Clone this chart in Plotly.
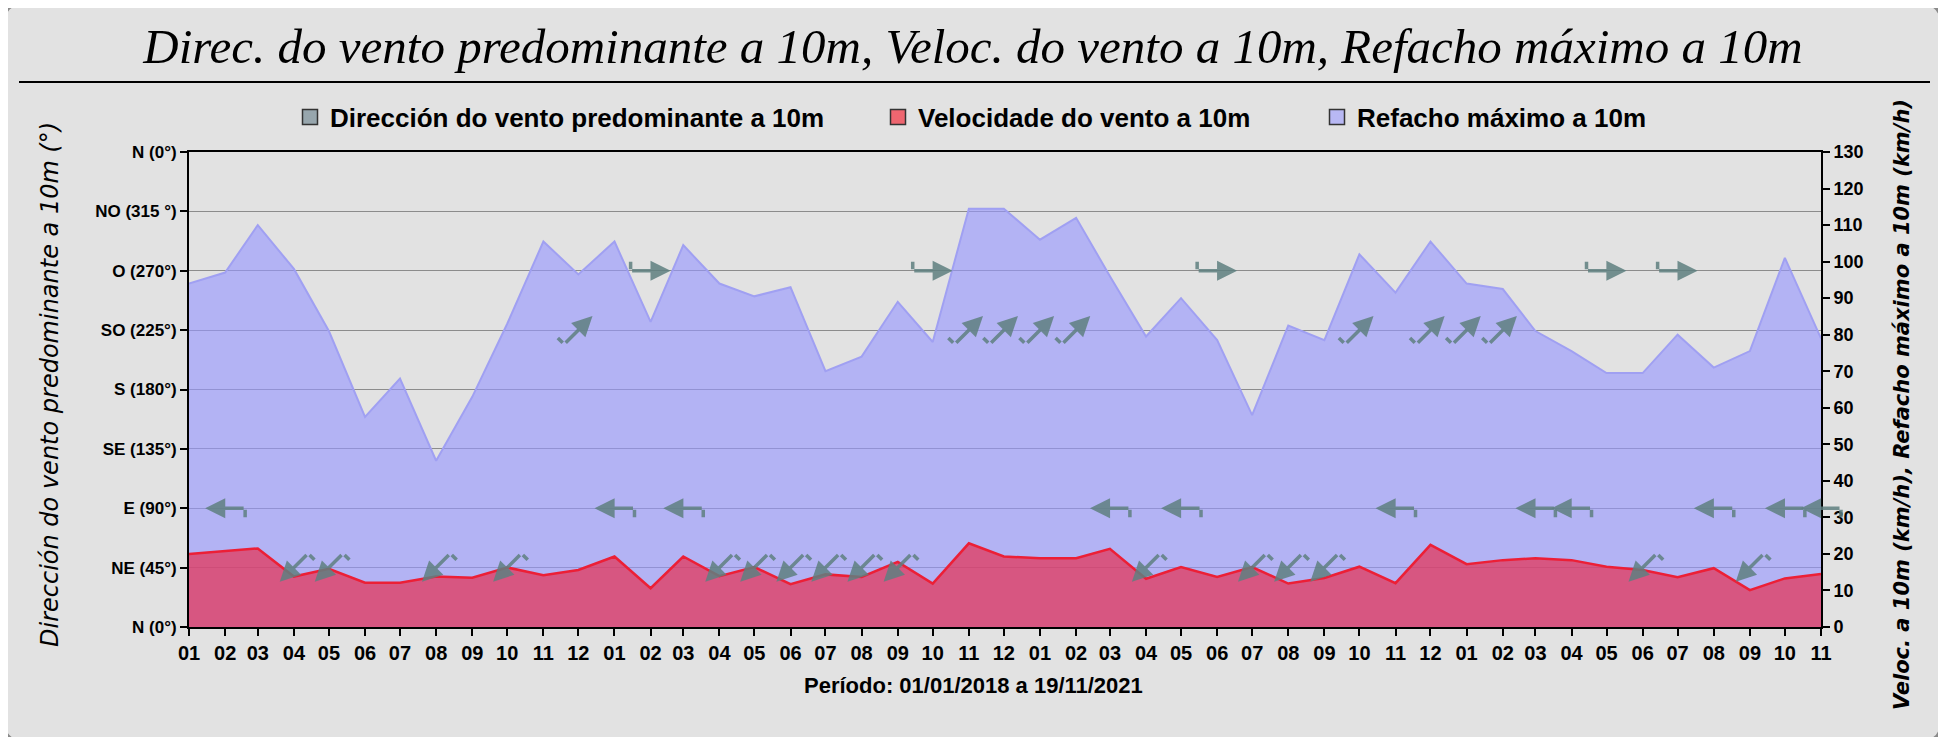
import plotly.graph_objects as go
import pandas as pd
import math

# months 01/2018 .. 11/2021
months = pd.date_range("2018-01-01", "2021-11-01", freq="MS")

# Refacho máximo a 10m (km/h)
refacho = [94, 97, 110, 98, 81, 57.5, 68, 45.5, 63, 83, 105.5, 96.5,
           105.5, 83.5, 104.5, 94, 90.5, 93, 70, 74, 89, 78, 114.5, 114.5,
           106, 112, 96, 79.5, 90, 78.5, 58, 82.5, 78.5, 102, 91.5, 105.5,
           94, 92.5, 81, 75.5, 69.5, 69.5, 80, 71, 75.5, 101, 79]

# Velocidade do vento a 10m (km/h)
velocidade = [20, 20.8, 21.5, 13.8, 15.9, 12.1, 12.1, 13.8, 13.5, 16.3, 14.2, 15.6,
              19.3, 10.6, 19.3, 13.9, 16.4, 11.7, 14.4, 13.7, 17.8, 11.9, 22.9, 19.3,
              18.8, 18.8, 21.4, 13.2, 16.4, 13.7, 16.4, 11.9, 13.4, 16.5, 12.0, 22.5,
              17.2, 18.3, 18.8, 18.3, 16.5, 15.6, 13.6, 16.1, 10.1, 13.3, 14.5]

# Dirección do vento predominante a 10m (graos)
direccion = [None, 90, None, 45, 45, None, None, 45, None, 45, None, 225,
             90, 270, 90, 45, 45, 45, 45, 45, 45, 270, 225, 225,
             225, 225, 90, 45, 90, 270, 45, 45, 45, 225, 90, 225,
             225, 225, 90, 90, 270, 45, 270, 90, 45, 90, 90]

dir_ticks = [0, 45, 90, 135, 180, 225, 270, 315, 360]
dir_labels = ["N (0°)", "NE (45°)", "E (90°)", "SE (135°)", "S (180°)",
              "SO (225°)", "O (270°)", "NO (315 °)", "N (0°)"]

# the page body has an 8px margin: positions below are window pixels
OFF = 8
W, H = 1946 - 2 * OFF, 745 - 2 * OFF
PX0, PX1, PY0, PY1 = 189, 1821, 152, 627      # plot area in the window
L, T = PX0 - OFF, PY0 - OFF
R, B = W - (PX1 - OFF), H - (PY1 - OFF)
pw, ph = W - L - R, H - T - B


def fx(px):
    return (px - OFF - L) / pw


def fy(py):
    return (H - B - (py - OFF)) / ph


def cx(px):
    return (px - OFF) / W


def cy(py):
    return 1 - (py - OFF) / H


sans = "Liberation Sans, Arial, sans-serif"
bold = lambda s: dict(family=sans, size=s, color="black", weight="bold")

fig = go.Figure()

fig.add_trace(go.Scatter(
    x=months, y=refacho, yaxis="y2", mode="lines", fill="tozeroy",
    line=dict(color="#a0a0f2", width=2), fillcolor="rgba(150,150,255,0.62)",
    showlegend=False, hoverinfo="skip"))
fig.add_trace(go.Scatter(
    x=months, y=velocidade, yaxis="y2", mode="lines", fill="tozeroy",
    line=dict(color="#ec1f36", width=2.5), fillcolor="rgba(228,50,85,0.72)",
    showlegend=False, hoverinfo="skip"))

# legend entries, each in its own legend box so the spacing matches
legend_items = [("Dirección do vento predominante a 10m", "#97a6ad", 310),
                ("Velocidade do vento a 10m", "#ee6670", 898),
                ("Refacho máximo a 10m", "#b8b8f4", 1337)]
legend_layout = {}
for i, (name, col, sx) in enumerate(legend_items):
    key = "legend" if i == 0 else f"legend{i + 1}"
    fig.add_trace(go.Scatter(
        x=[None], y=[None], mode="markers", name=name, legend=key,
        marker=dict(symbol="square", size=15, color=col,
                    line=dict(color="#333", width=1.5))))
    legend_layout[key] = dict(
        x=cx(sx - 20), xref="container", xanchor="left",
        y=cy(117), yref="container", yanchor="middle",
        bgcolor="rgba(0,0,0,0)", borderwidth=0, itemwidth=30,
        font=bold(26))

# wind direction arrows (pointing where the wind goes)
arrow_col = "rgba(95,128,128,0.85)"
alen, hook = 40, 9
annotations = []
for m, d in zip(months, direccion):
    if d is None:
        continue
    g = math.radians(d + 180)
    ux, uy = math.sin(g), -math.cos(g)
    annotations.append(dict(
        x=m, y=d, xref="x", yref="y", text="", showarrow=True,
        ax=-alen * ux, ay=-alen * uy, axref="pixel", ayref="pixel",
        xshift=alen / 2 * ux, yshift=-alen / 2 * uy,
        arrowhead=2, arrowsize=1.15, arrowwidth=3.5, arrowcolor=arrow_col,
        standoff=0, startstandoff=0))
    hx, hy = uy * hook, -ux * hook
    annotations.append(dict(
        x=m, y=d, xref="x", yref="y", text="", showarrow=True,
        ax=-hx, ay=-hy, axref="pixel", ayref="pixel",
        xshift=-alen / 2 * ux + hx, yshift=-(-alen / 2 * uy + hy),
        arrowhead=0, arrowwidth=3.5, arrowcolor=arrow_col,
        standoff=0, startstandoff=0))

annotations += [
    dict(text="Período: 01/01/2018 a 19/11/2021", x=fx(973), y=fy(685),
         xref="paper", yref="paper", xanchor="center", yanchor="middle",
         showarrow=False, font=bold(22)),
    dict(text="Dirección do vento predominante a 10m (°)", x=fx(50), y=fy(385),
         xref="paper", yref="paper", xanchor="center", yanchor="middle",
         showarrow=False, textangle=-90,
         font=dict(family="DejaVu Sans, sans-serif", size=24, color="black",
                   style="italic")),
    dict(text="Veloc. a 10m (km/h), Refacho máximo a 10m (km/h)", x=fx(1902),
         y=fy(405), xref="paper", yref="paper", xanchor="center",
         yanchor="middle", showarrow=False, textangle=-90,
         font=dict(family="DejaVu Sans, sans-serif", size=21, color="black",
                   style="italic", weight="bold")),
]

# rounded outer frame and the rule under the title
x0, x1, y0, y1, rr = fx(4), fx(1941), fy(741), fy(4), 18
rx, ry = rr / pw, rr / ph
frame = (f"M {x0 + rx},{y1} L {x1 - rx},{y1} Q {x1},{y1} {x1},{y1 - ry} "
         f"L {x1},{y0 + ry} Q {x1},{y0} {x1 - rx},{y0} L {x0 + rx},{y0} "
         f"Q {x0},{y0} {x0},{y0 + ry} L {x0},{y1 - ry} Q {x0},{y1} {x0 + rx},{y1} Z")
shapes = [
    dict(type="path", path=frame, xref="paper", yref="paper",
         line=dict(color="#8a8a8a", width=3), layer="below"),
    dict(type="line", xref="paper", yref="paper", x0=fx(19), x1=fx(1930),
         y0=fy(82), y1=fy(82), line=dict(color="black", width=2)),
]

axis_common = dict(ticks="outside", ticklen=7, tickcolor="black", tickwidth=1.5,
                   showline=True, linecolor="black", linewidth=2,
                   automargin=False, zeroline=False)

fig.update_layout(
    width=W, height=H,
    margin=dict(l=L, r=R, t=T, b=B, autoexpand=False),
    paper_bgcolor="#e2e2e2", plot_bgcolor="rgba(0,0,0,0)",
    title=dict(text="Direc. do vento predominante a 10m, Veloc. do vento a 10m, Refacho máximo a 10m",
               x=cx(973), xref="container", xanchor="center",
               y=cy(46), yref="container", yanchor="middle",
               font=dict(family="Liberation Serif, Times New Roman, serif",
                         size=49, color="black", style="italic")),
    xaxis=dict(type="date", range=[months[0], months[-1]], dtick="M1",
               tickformat="%m", mirror=True, showgrid=False,
               tickfont=bold(20), **axis_common),
    yaxis=dict(range=[0, 360], tickvals=dir_ticks, ticktext=dir_labels,
               showgrid=True, gridcolor="rgba(70,70,70,0.55)", gridwidth=1,
               tickfont=bold(17), **axis_common),
    yaxis2=dict(range=[0, 130], dtick=10, overlaying="y", side="right",
                showgrid=False, tickfont=bold(18), **axis_common),
    annotations=annotations,
    shapes=shapes,
    **legend_layout,
)

fig.write_html("out.html")
